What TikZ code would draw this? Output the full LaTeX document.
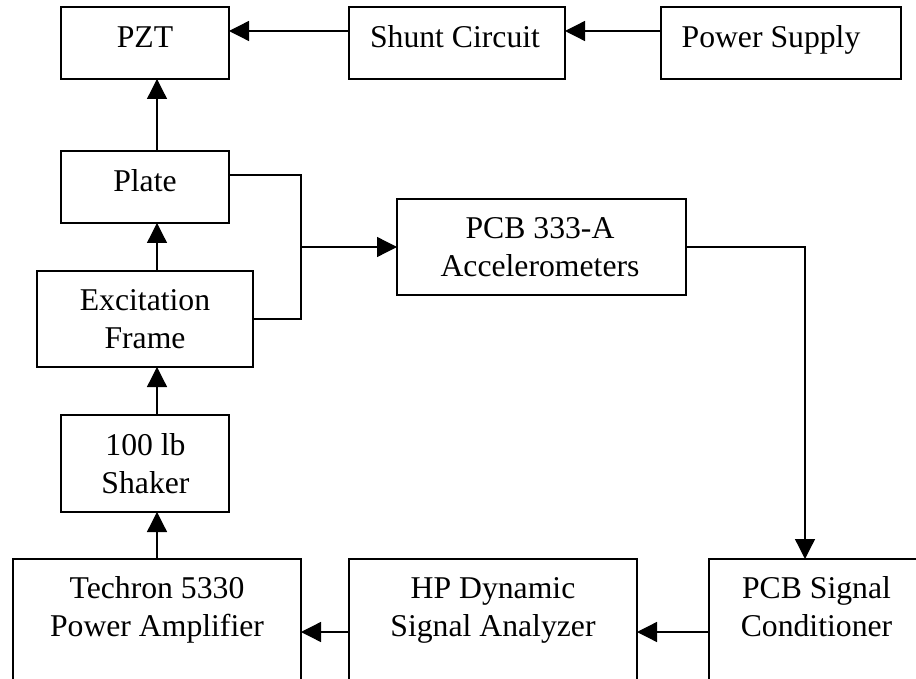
\documentclass[tikz,border=0pt]{standalone}
\usepackage{fontspec}
\setmainfont{Liberation Serif}
\usetikzlibrary{arrows.meta}

\begin{document}
\begin{tikzpicture}[x=1pt,y=-1pt,
  block/.style={draw=black, line width=1.3pt, inner sep=0pt, outer sep=0pt,
                anchor=north west},
  lbl/.style={font=\fontsize{31.7}{38}\selectfont, inner sep=0pt, anchor=base},
  link/.style={draw=black, line width=1.3pt},
  arr/.style={link, -{Triangle[length=20pt,width=20pt]}}]

\useasboundingbox (0,0) rectangle (916,679);
\clip (0,0) rectangle (916,679);

% blocks
\node[block, minimum width=168pt, minimum height=72pt] (pzt)     at (61,7)   {};
\node[block, minimum width=216pt, minimum height=72pt] (shunt)   at (349,7)  {};
\node[block, minimum width=240pt, minimum height=72pt] (power)   at (661,7)  {};
\node[block, minimum width=168pt, minimum height=72pt] (plate)   at (61,151) {};
\node[block, minimum width=216pt, minimum height=96pt] (exc)     at (37,271) {};
\node[block, minimum width=289pt, minimum height=96pt] (accel)   at (397,199){};
\node[block, minimum width=168pt, minimum height=97pt] (shaker)  at (61,415) {};
\node[block, minimum width=288pt, minimum height=122pt] (techron) at (13,559) {};
\node[block, minimum width=288pt, minimum height=122pt] (hp)      at (349,559){};
\node[block, minimum width=231pt, minimum height=122pt] (pcbsig)  at (709,559){};

% labels
\node[lbl] (pzt-t)      at (145,47.7)  {PZT};
\node[lbl] (shunt-t)    at (455,47.7)  {Shunt Circuit};
\node[lbl] (power-t)    at (771,47.7)  {Power Supply};
\node[lbl] (plate-t)    at (145,191.7) {Plate};
\node[lbl] (exc-t1)     at (145,310)   {Excitation};
\node[lbl] (exc-t2)     at (145,348)   {Frame};
\node[lbl] (accel-t1)   at (540,238.5) {PCB 333-A};
\node[lbl] (accel-t2)   at (540,276.5) {Accelerometers};
\node[lbl] (shaker-t1)  at (145.5,455) {100 lb};
\node[lbl] (shaker-t2)  at (145.5,493) {Shaker};
\node[lbl] (techron-t1) at (157,598)   {Techron 5330};
\node[lbl] (techron-t2) at (157,636)   {Power Amplifier};
\node[lbl] (hp-t1)      at (493,598)   {HP Dynamic};
\node[lbl] (hp-t2)      at (493,636)   {Signal Analyzer};
\node[lbl] (pcbsig-t1)  at (816.5,598) {PCB Signal};
\node[lbl] (pcbsig-t2)  at (816.5,636) {Conditioner};

% routing guides
\coordinate (col)   at (157,0);
\coordinate (top)   at (0,31);
\coordinate (bot)   at (0,632);
\coordinate (pout)  at (0,175);
\coordinate (eout)  at (0,319);
\coordinate (accy)  at (0,247);
\coordinate (bus)   at (301,247);
\coordinate (drop)  at (805,247);

% upper chain
\draw[arr] (power.west |- top) -- (shunt.east |- top);
\draw[arr] (shunt.west |- top) -- (pzt.east |- top);

% vertical excitation chain
\draw[arr] (techron.north -| col) -- (shaker.south -| col);
\draw[arr] (shaker.north -| col)  -- (exc.south -| col);
\draw[arr] (exc.north -| col)     -- (plate.south -| col);
\draw[arr] (plate.north -| col)   -- (pzt.south -| col);

% measurement loop
\draw[link] (plate.east |- pout) -| (bus) |- (exc.east |- eout);
\draw[arr] (bus) -- (accel.west |- accy);
\draw[arr] (accel.east |- accy) -| (pcbsig.north -| drop);
\draw[arr] (pcbsig.west |- bot) -- (hp.east |- bot);
\draw[arr] (hp.west |- bot) -- (techron.east |- bot);

\end{tikzpicture}
\end{document}
